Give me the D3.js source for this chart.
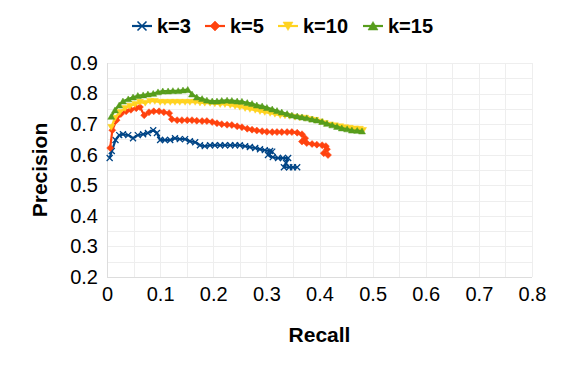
<!DOCTYPE html>
<html>
<head>
<meta charset="utf-8">
<script src="https://cdn.jsdelivr.net/npm/d3@7"></script>
<style>
  body { margin: 0; background: #fff; }
  svg { display: block; font-family: "Liberation Sans", Arial, sans-serif; }
</style>
</head>
<body>
<svg id="mainFrame"></svg>
<script>
const width = 565;
const height = 368;

const seriesNames = ["k=3", "k=5", "k=10", "k=15"];
const colors = ["#004586", "#ff420e", "#ffd320", "#579d1c"];
const xTicks = [0, 0.1, 0.2, 0.3, 0.4, 0.5, 0.6, 0.7, 0.8];
const yTicks = [0.2, 0.3, 0.4, 0.5, 0.6, 0.7, 0.8, 0.9];

// [recall, precision]
const k3 = [
    [0.005, 0.589], [0.009, 0.612], [0.016, 0.648], [0.023, 0.664], [0.030, 0.667],
    [0.040, 0.664], [0.049, 0.654], [0.058, 0.664], [0.068, 0.667], [0.077, 0.671],
    [0.087, 0.680], [0.094, 0.671], [0.100, 0.648], [0.109, 0.648], [0.119, 0.648],
    [0.128, 0.654], [0.137, 0.651], [0.147, 0.651], [0.156, 0.644], [0.166, 0.641],
    [0.175, 0.631], [0.184, 0.628], [0.194, 0.631], [0.203, 0.631], [0.213, 0.631],
    [0.222, 0.631], [0.232, 0.631], [0.241, 0.631], [0.250, 0.631], [0.260, 0.628],
    [0.269, 0.625], [0.279, 0.622], [0.288, 0.618], [0.297, 0.615], [0.307, 0.612],
    [0.311, 0.610], [0.303, 0.599], [0.312, 0.592], [0.322, 0.589], [0.331, 0.589],
    [0.341, 0.589], [0.337, 0.573], [0.333, 0.559], [0.343, 0.559], [0.350, 0.559],
    [0.358, 0.559]
];
const k5 = [
    [0.006, 0.622], [0.010, 0.680], [0.018, 0.713], [0.026, 0.733], [0.036, 0.742],
    [0.045, 0.747], [0.055, 0.752], [0.062, 0.756], [0.070, 0.729], [0.079, 0.739],
    [0.088, 0.742], [0.098, 0.742], [0.107, 0.739], [0.117, 0.736], [0.122, 0.716],
    [0.132, 0.713], [0.141, 0.713], [0.151, 0.713], [0.160, 0.713], [0.169, 0.711],
    [0.179, 0.710], [0.188, 0.710], [0.198, 0.707], [0.207, 0.703], [0.216, 0.700],
    [0.226, 0.698], [0.235, 0.697], [0.245, 0.693], [0.254, 0.690], [0.264, 0.685],
    [0.273, 0.682], [0.282, 0.679], [0.292, 0.677], [0.301, 0.675], [0.311, 0.674],
    [0.320, 0.674], [0.329, 0.674], [0.339, 0.674], [0.348, 0.674], [0.358, 0.672],
    [0.367, 0.667], [0.373, 0.654], [0.367, 0.643], [0.376, 0.638], [0.386, 0.635],
    [0.395, 0.633], [0.405, 0.631], [0.412, 0.628], [0.414, 0.618], [0.408, 0.605],
    [0.416, 0.599]
];
const k10 = [
    [0.008, 0.690], [0.015, 0.720], [0.024, 0.739], [0.034, 0.752], [0.043, 0.759],
    [0.053, 0.765], [0.062, 0.772], [0.072, 0.769], [0.081, 0.775], [0.090, 0.775],
    [0.100, 0.772], [0.109, 0.772], [0.119, 0.772], [0.128, 0.772], [0.137, 0.772],
    [0.147, 0.772], [0.156, 0.772], [0.166, 0.772], [0.175, 0.770], [0.184, 0.769],
    [0.194, 0.769], [0.203, 0.767], [0.213, 0.765], [0.222, 0.765], [0.232, 0.762],
    [0.241, 0.759], [0.250, 0.756], [0.260, 0.752], [0.269, 0.749], [0.279, 0.746],
    [0.288, 0.742], [0.297, 0.739], [0.307, 0.736], [0.316, 0.733], [0.326, 0.729],
    [0.335, 0.728], [0.344, 0.726], [0.354, 0.723], [0.363, 0.721], [0.373, 0.720],
    [0.382, 0.716], [0.392, 0.713], [0.401, 0.708], [0.410, 0.703], [0.420, 0.698],
    [0.429, 0.695], [0.439, 0.692], [0.448, 0.689], [0.457, 0.687], [0.467, 0.685],
    [0.476, 0.684], [0.482, 0.680]
];
const k15 = [
    [0.008, 0.725], [0.015, 0.746], [0.023, 0.762], [0.030, 0.775], [0.040, 0.782],
    [0.049, 0.788], [0.058, 0.793], [0.068, 0.795], [0.077, 0.798], [0.087, 0.800],
    [0.096, 0.805], [0.105, 0.808], [0.115, 0.808], [0.124, 0.809], [0.134, 0.809],
    [0.143, 0.811], [0.152, 0.813], [0.160, 0.798], [0.169, 0.788], [0.179, 0.783],
    [0.188, 0.778], [0.198, 0.775], [0.207, 0.775], [0.216, 0.777], [0.226, 0.778],
    [0.235, 0.777], [0.245, 0.775], [0.254, 0.774], [0.264, 0.770], [0.273, 0.767],
    [0.282, 0.762], [0.292, 0.759], [0.301, 0.754], [0.311, 0.749], [0.320, 0.744],
    [0.329, 0.739], [0.339, 0.734], [0.348, 0.729], [0.358, 0.726], [0.367, 0.723],
    [0.376, 0.720], [0.386, 0.716], [0.395, 0.713], [0.405, 0.708], [0.414, 0.702],
    [0.424, 0.697], [0.433, 0.692], [0.442, 0.687], [0.452, 0.684], [0.461, 0.680],
    [0.471, 0.679], [0.480, 0.677]
];
const series = [k3, k5, k10, k15];

const margin = {top: 63, right: 33, bottom: 91, left: 107};

const x = d3.scaleLinear().domain([0, 0.8]).range([margin.left, width - margin.right]);
const y = d3.scaleLinear().domain([0.2, 0.9]).range([height - margin.bottom, margin.top]);

const svg = d3.select("#mainFrame")
    .attr("width", width)
    .attr("height", height);

// grid, every 0.05
const gridX = d3.range(0, 0.8001, 0.05);
const gridY = d3.range(0.2, 0.9001, 0.05);

svg.append("g")
    .selectAll("line")
    .data(gridX)
    .join("line")
    .attr("x1", d => Math.round(x(d)) + 0.5)
    .attr("x2", d => Math.round(x(d)) + 0.5)
    .attr("y1", y(0.9))
    .attr("y2", y(0.2))
    .attr("stroke", "#eeeeee");

svg.append("g")
    .selectAll("line")
    .data(gridY)
    .join("line")
    .attr("x1", x(0))
    .attr("x2", x(0.8))
    .attr("y1", d => Math.round(y(d)) + 0.5)
    .attr("y2", d => Math.round(y(d)) + 0.5)
    .attr("stroke", "#eeeeee");

// axis lines
svg.append("line")
    .attr("x1", x(0)).attr("x2", x(0.8))
    .attr("y1", Math.round(y(0.2)) + 0.5).attr("y2", Math.round(y(0.2)) + 0.5)
    .attr("stroke", "#dddddd");
svg.append("line")
    .attr("x1", Math.round(x(0)) + 0.5).attr("x2", Math.round(x(0)) + 0.5)
    .attr("y1", y(0.9)).attr("y2", y(0.2))
    .attr("stroke", "#dddddd");

const xAxis = svg.append("g")
    .attr("transform", `translate(0,${y(0.2)})`)
    .call(d3.axisBottom(x).tickValues(xTicks).tickSize(0).tickPadding(10)
        .tickFormat(d => d === 0 ? "0" : d3.format(".1f")(d)));
const yAxis = svg.append("g")
    .attr("transform", `translate(${x(0)},0)`)
    .call(d3.axisLeft(y).tickValues(yTicks).tickSize(0).tickPadding(9)
        .tickFormat(d3.format(".1f")));
[xAxis, yAxis].forEach(a => {
    a.select(".domain").remove();
    a.selectAll("text")
        .attr("font-family", "Liberation Sans, Arial, sans-serif")
        .attr("font-size", 20)
        .attr("fill", "#000");
});

// markers
function markerPath(i, s) {
    if (i === 0) return `M${-s},${-s}L${s},${s}M${-s},${s}L${s},${-s}`;
    if (i === 1) return `M0,${-s}L${s},0L0,${s}L${-s},0Z`;
    if (i === 2) return `M${-s},${-s * 0.8}L${s},${-s * 0.8}L0,${s * 0.9}Z`;
    return `M${-s},${s * 0.8}L${s},${s * 0.8}L0,${-s * 0.9}Z`;
}

const line = d3.line().x(d => x(d[0])).y(d => y(d[1]));

series.forEach((data, i) => {
    const g = svg.append("g");
    g.append("path")
        .datum(data)
        .attr("fill", "none")
        .attr("stroke", colors[i])
        .attr("stroke-width", 2.2)
        .attr("stroke-linejoin", "round")
        .attr("d", line);
    g.selectAll("path.m")
        .data(data)
        .join("path")
        .attr("class", "m")
        .attr("transform", d => `translate(${x(d[0])},${y(d[1])})`)
        .attr("d", markerPath(i, i === 0 ? 3 : 3.5))
        .attr("fill", i === 0 ? "none" : colors[i])
        .attr("stroke", colors[i])
        .attr("stroke-width", i === 0 ? 1.3 : 0.5);
});

// legend
const legendX = [132, 205, 278, 363];
const legend = svg.append("g")
    .selectAll("g")
    .data(seriesNames)
    .join("g")
    .attr("transform", (d, i) => `translate(${legendX[i]},26)`);
legend.append("line")
    .attr("x1", 0).attr("x2", 20)
    .attr("stroke", (d, i) => colors[i])
    .attr("stroke-width", 2.2);
legend.append("path")
    .attr("transform", "translate(10,0)")
    .attr("d", (d, i) => markerPath(i, i === 0 ? 4.5 : 5))
    .attr("fill", (d, i) => i === 0 ? "none" : colors[i])
    .attr("stroke", (d, i) => colors[i])
    .attr("stroke-width", (d, i) => i === 0 ? 1.6 : 0.5);
legend.append("text")
    .attr("x", 25)
    .attr("dy", "0.36em")
    .attr("font-size", 20)
    .attr("font-weight", "bold")
    .text(d => d);

// axis titles
svg.append("text")
    .attr("x", (x(0) + x(0.8)) / 2)
    .attr("y", 342)
    .attr("text-anchor", "middle")
    .attr("font-size", 21)
    .attr("font-weight", "bold")
    .text("Recall");
svg.append("text")
    .attr("transform", `translate(47,${(y(0.2) + y(0.9)) / 2}) rotate(-90)`)
    .attr("text-anchor", "middle")
    .attr("font-size", 21)
    .attr("font-weight", "bold")
    .text("Precision");
</script>
</body>
</html>
